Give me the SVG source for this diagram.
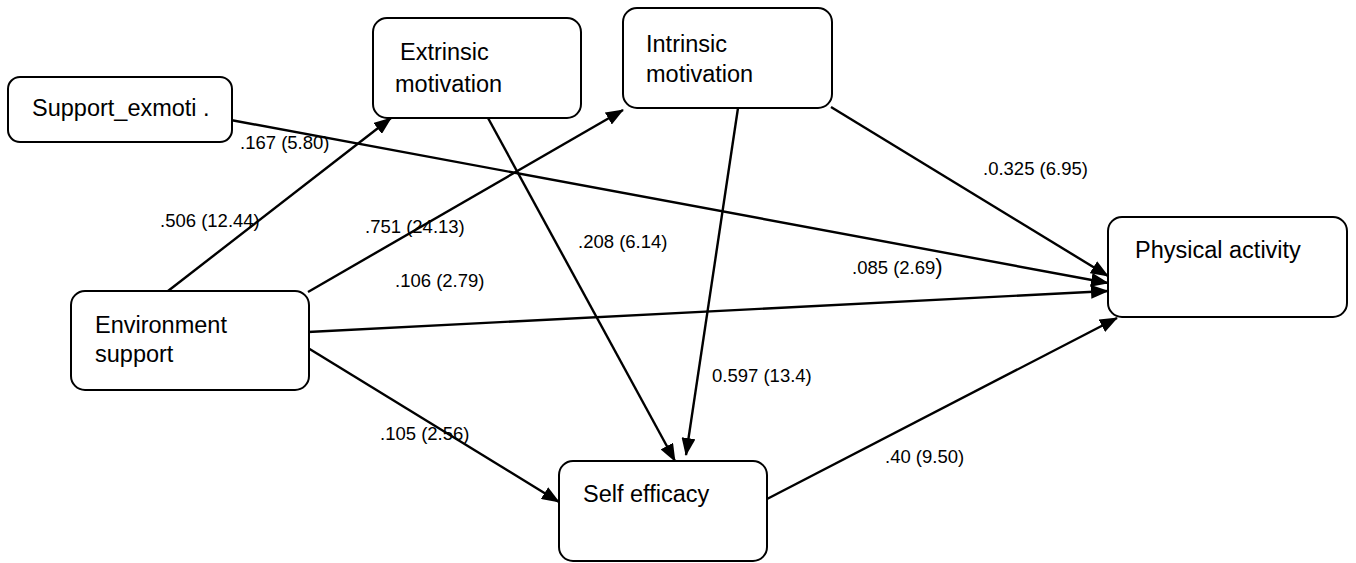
<svg xmlns="http://www.w3.org/2000/svg" width="1356" height="563" viewBox="0 0 1356 563">
<style>
.node rect{fill:#fff;stroke:#000;stroke-width:2}
.node text{font-family:"Liberation Sans",Arial,sans-serif;font-size:23.5px;fill:#000}
.edge{stroke:#000;stroke-width:2.4;fill:none;marker-end:url(#arr)}
.lbl{font-family:"Liberation Sans",Arial,sans-serif;font-size:18.5px;fill:#000}
</style>
<defs>
<marker id="arr" markerUnits="userSpaceOnUse" markerWidth="18" markerHeight="14" refX="17" refY="7" orient="auto">
<path d="M0,0 L18,7 L0,14 Z" fill="#000"/>
</marker>
</defs>
<rect width="1356" height="563" fill="#fff"/>
<g id="connectors">
<line class="edge" x1="220" y1="118" x2="1108" y2="283"/>
<line class="edge" x1="168" y1="291" x2="391" y2="118"/>
<line class="edge" x1="308" y1="292" x2="623" y2="110"/>
<line class="edge" x1="308" y1="332" x2="1108" y2="291"/>
<line class="edge" x1="308" y1="348" x2="559" y2="502"/>
<line class="edge" x1="488" y1="118" x2="675" y2="461"/>
<line class="edge" x1="738" y1="108" x2="686" y2="455"/>
<line class="edge" x1="831" y1="107" x2="1108" y2="276"/>
<line class="edge" x1="767" y1="499" x2="1117" y2="318"/>
</g>
<g id="n-support-exmoti" class="node">
<rect x="8" y="77" width="224" height="65" rx="12"/>
<text x="32" y="116">Support_exmoti .</text>
</g>
<g id="n-extrinsic" class="node">
<rect x="373" y="18" width="208" height="100" rx="14"/>
<text x="400" y="60">Extrinsic</text>
<text x="395" y="92">motivation</text>
</g>
<g id="n-intrinsic" class="node">
<rect x="623" y="8" width="209" height="100" rx="14"/>
<text x="646" y="52">Intrinsic</text>
<text x="646" y="82">motivation</text>
</g>
<g id="n-environment" class="node">
<rect x="71" y="291" width="238" height="99" rx="14"/>
<text x="95" y="333">Environment</text>
<text x="95" y="362">support</text>
</g>
<g id="n-physical" class="node">
<rect x="1108" y="217" width="239" height="100" rx="14"/>
<text x="1135" y="258">Physical activity</text>
</g>
<g id="n-self-efficacy" class="node">
<rect x="559" y="461" width="208" height="100" rx="14"/>
<text x="583" y="502">Self efficacy</text>
</g>
<g id="labels">
<text class="lbl" x="240" y="149">.167 (5.80)</text>
<text class="lbl" x="160" y="227">.506 (12.44)</text>
<text class="lbl" x="365" y="233">.751 (24.13)</text>
<text class="lbl" x="578" y="248">.208 (6.14)</text>
<text class="lbl" x="852" y="274">.085 (2.69<tspan font-size="22">)</tspan></text>
<text class="lbl" x="983" y="175">.0.325 (6.95)</text>
<text class="lbl" x="395" y="287">.106 (2.79)</text>
<text class="lbl" x="712" y="382">0.597 (13.4)</text>
<text class="lbl" x="380" y="440">.105 (2.56)</text>
<text class="lbl" x="885" y="463">.40 (9.50)</text>
</g>
</svg>
